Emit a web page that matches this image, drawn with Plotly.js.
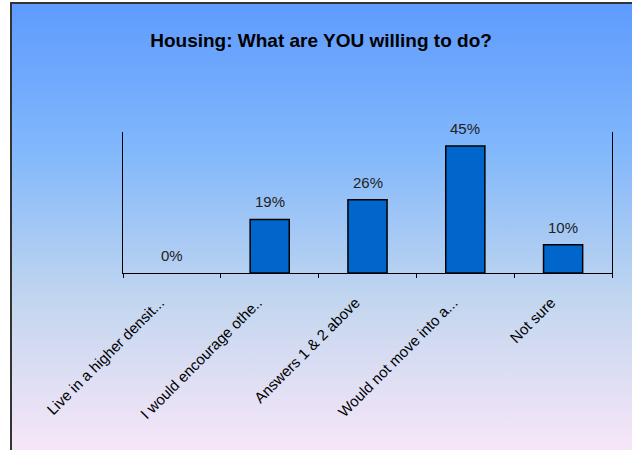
<!DOCTYPE html>
<html>
<head>
<meta charset="utf-8">
<script src="https://cdn.plot.ly/plotly-3.0.1.min.js"></script>
<style>
  html, body { margin: 0; padding: 0; background: #ffffff; }
  #wrap { position: relative; width: 632px; height: 450px; overflow: hidden; }
  #bg { position: absolute; left: 10px; top: 2px; width: 624px; height: 452px;
        box-sizing: border-box; border: 2px solid #333333;
        background: linear-gradient(to bottom, #5e9bfe 0%, #82b8fb 33%, #c2d6ef 66%, #f8e6f8 100%); }
  #chart { position: absolute; left: 0; top: 0; width: 632px; height: 450px; }
</style>
</head>
<body>
<div id="wrap">
  <div id="bg"></div>
  <div id="chart"></div>
</div>
<script>
const categories = ["Live in a higher densit...", "I would encourage othe..", "Answers 1 & 2 above", "Would not move into a...", "Not sure"];
const values = [0, 19, 26, 45, 10];
const valueLabels = ["0%", "19%", "26%", "45%", "10%"];

const trace = {
  type: "bar",
  x: categories,
  y: values,
  width: 0.4,
  marker: { color: "#0066cc", line: { color: "#000000", width: values.map(v => v > 0 ? 1.5 : 0) } },
  hoverinfo: "skip"
};

const annotations = categories.map((c, i) => ({
  x: c, y: values[i], xref: "x", yref: "y",
  text: valueLabels[i], showarrow: false,
  yanchor: "bottom", yshift: 7,
  font: { family: "Liberation Sans, Arial, sans-serif", size: 15, color: "#222222" }
}));

const layout = {
  width: 632, height: 450,
  paper_bgcolor: "rgba(0,0,0,0)",
  plot_bgcolor: "rgba(0,0,0,0)",
  margin: { l: 123, r: 20, t: 132, b: 177 },
  title: {
    text: "<b>Housing: What are YOU willing to do?</b>",
    x: 0.508, xanchor: "center", y: 0.911, yanchor: "middle",
    font: { family: "Liberation Sans, Arial, sans-serif", size: 19, color: "#000000" }
  },
  xaxis: {
    type: "category",
    tickangle: -45,
    ticks: "outside", tickson: "boundaries", ticklen: 4, tickcolor: "#000000", tickwidth: 1,
    ticklabelstandoff: 14, ticklabelshift: -12,
    showline: true, linecolor: "#000000", linewidth: 1,
    showgrid: false, zeroline: false,
    tickfont: { family: "Liberation Sans, Arial, sans-serif", size: 15, color: "#000000" }
  },
  yaxis: {
    range: [0, 50],
    showline: true, mirror: true, linecolor: "#000000", linewidth: 1,
    showticklabels: false, ticks: "", showgrid: false, zeroline: false
  },
  annotations: annotations,
  showlegend: false
};

Plotly.newPlot("chart", [trace], layout, { displayModeBar: false, staticPlot: true });
</script>
</body>
</html>
